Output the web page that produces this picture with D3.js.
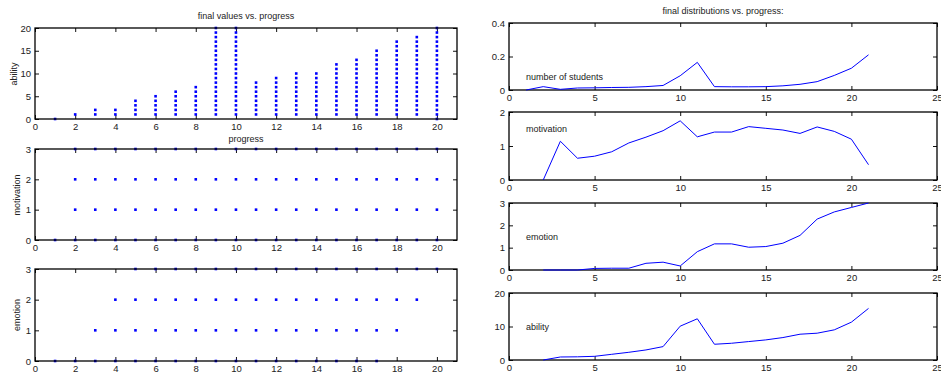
<!DOCTYPE html>
<html>
<head>
<meta charset="utf-8">
<script src="https://cdn.jsdelivr.net/npm/d3@7"></script>
<style>
  body { margin: 0; background: #fff; }
  svg { display: block; font-family: "Liberation Sans", Arial, sans-serif; }
  .tick text { font-size: 9.5px; fill: #222; }
</style>
</head>
<body>
<div id="chart"></div>
<script>
// progress steps 1..20 (left panels)
const progress = [1, 2, 3, 4, 5, 6, 7, 8, 9, 10, 11, 12, 13, 14, 15, 16, 17, 18, 19, 20];
// lowest / highest ability level seen at each progress step
const abilityMin = [0, 1, 1, 1, 1, 1, 1, 1, 1, 1, 1, 1, 1, 1, 1, 1, 1, 1, 1, 0];
const abilityMax = [0, 1, 2, 2, 4, 5, 6, 7, 20, 20, 8, 9, 10, 10, 12, 13, 15, 17, 18, 20];
// first / last progress step at which each level (0..3) occurs
const motivationFrom = [1, 2, 2, 2];
const motivationTo = [20, 20, 20, 20];
const emotionFrom = [1, 3, 4, 5];
const emotionTo = [17, 18, 19, 20];

// right panels: distributions vs. progress
const distX = [1, 2, 3, 4, 5, 6, 7, 8, 9, 10, 11, 12, 13, 14, 15, 16, 17, 18, 19, 20, 21];
const students = [0, 0.02, 0.004, 0.012, 0.013, 0.015, 0.016, 0.02, 0.027, 0.085, 0.165, 0.02, 0.019, 0.019, 0.02, 0.025, 0.034, 0.05, 0.087, 0.13, 0.21];
const motivation = [null, 0, 1.14, 0.64, 0.7, 0.83, 1.09, 1.26, 1.45, 1.74, 1.27, 1.41, 1.41, 1.57, 1.52, 1.47, 1.37, 1.56, 1.43, 1.2, 0.45];
const emotion = [null, 0, 0, 0, 0.07, 0.08, 0.08, 0.3, 0.35, 0.18, 0.82, 1.17, 1.17, 1.02, 1.05, 1.2, 1.55, 2.28, 2.6, 2.8, 3.0];
const ability = [null, 0, 0.9, 0.95, 1.1, 1.7, 2.3, 3.0, 4.0, 10.1, 12.3, 4.7, 5.0, 5.5, 6.0, 6.7, 7.7, 8.0, 9.0, 11.3, 15.4];

const leftTicksX = [0, 2, 4, 6, 8, 10, 12, 14, 16, 18, 20];
const rightTicksX = [0, 5, 10, 15, 20, 25];

const W = 941, H = 376;
const blue = "#0000ff";

const svg = d3.select("#chart").append("svg")
  .attr("width", W).attr("height", H);

// draws a boxed MATLAB-like panel, ticks pointing inward on all sides
function panel(box, xDomain, yDomain, xTicks, yTicks, yFmt) {
  const x = d3.scaleLinear().domain(xDomain).range([box.x0, box.x1]);
  const y = d3.scaleLinear().domain(yDomain).range([box.y1, box.y0]);
  const g = svg.append("g");

  g.append("g").attr("transform", `translate(0,${box.y1})`)
    .call(d3.axisBottom(x).tickValues(xTicks).tickSize(-4).tickPadding(4).tickFormat(d3.format("d")));
  g.append("g").attr("transform", `translate(0,${box.y0})`)
    .call(d3.axisTop(x).tickValues(xTicks).tickSize(-4).tickFormat(""));
  g.append("g").attr("transform", `translate(${box.x0},0)`)
    .call(d3.axisLeft(y).tickValues(yTicks).tickSize(-4).tickPadding(4).tickFormat(yFmt || d3.format("d")));
  g.append("g").attr("transform", `translate(${box.x1},0)`)
    .call(d3.axisRight(y).tickValues(yTicks).tickSize(-4).tickFormat(""));

  g.selectAll(".domain").remove();
  g.selectAll(".tick line").attr("stroke", "#111");
  g.append("rect")
    .attr("x", box.x0).attr("y", box.y0)
    .attr("width", box.x1 - box.x0).attr("height", box.y1 - box.y0)
    .attr("fill", "none").attr("stroke", "#000").attr("stroke-width", 1.3);
  return { x, y, g };
}

function dots(p, pts) {
  p.g.insert("g", "rect").selectAll("rect").data(pts).enter().append("rect")
    .attr("x", d => p.x(d[0]) - 1.3)
    .attr("y", d => p.y(d[1]) - 1.3)
    .attr("width", 2.6).attr("height", 2.6)
    .attr("fill", blue);
}

function label(text, x, y, rotate) {
  svg.append("text")
    .attr("transform", `translate(${x},${y})` + (rotate ? " rotate(-90)" : ""))
    .attr("text-anchor", "middle")
    .attr("font-size", 9).attr("fill", "#222")
    .text(text);
}

// ---- left column ----
const L = { x0: 35, x1: 457 };
const pAb = panel({ ...L, y0: 28, y1: 119 }, [0, 21], [0, 20], leftTicksX, [0, 5, 10, 15, 20]);
const pMo = panel({ ...L, y0: 149, y1: 240 }, [0, 21], [0, 3], leftTicksX, [0, 1, 2, 3]);
const pEm = panel({ ...L, y0: 269, y1: 361 }, [0, 21], [0, 3], leftTicksX, [0, 1, 2, 3]);

const abPts = [];
progress.forEach((p, i) => {
  for (let v = abilityMin[i]; v <= abilityMax[i]; v++) abPts.push([p, v]);
});
dots(pAb, abPts);

function levelPts(from, to) {
  const pts = [];
  from.forEach((f, lvl) => {
    progress.filter(p => p >= f && p <= to[lvl]).forEach(p => pts.push([p, lvl]));
  });
  return pts;
}
dots(pMo, levelPts(motivationFrom, motivationTo));
dots(pEm, levelPts(emotionFrom, emotionTo));

label("final values vs. progress", 246, 19);
label("progress", 246, 142);
label("ability", 17, 74, true);
label("motivation", 20, 195, true);
label("emotion", 20, 315, true);

// ---- right column ----
const R = { x0: 509, x1: 937 };
const lines = [
  { box: { ...R, y0: 23, y1: 90 }, yDom: [0, 0.4], yTicks: [0, 0.2, 0.4], fmt: d => d === 0 ? "0" : d3.format(".1f")(d), data: students, name: "number of students", ly: 80 },
  { box: { ...R, y0: 112, y1: 180 }, yDom: [0, 2], yTicks: [0, 1, 2], data: motivation, name: "motivation", ly: 132 },
  { box: { ...R, y0: 203, y1: 270 }, yDom: [0, 3], yTicks: [0, 1, 2, 3], data: emotion, name: "emotion", ly: 240 },
  { box: { ...R, y0: 293, y1: 360 }, yDom: [0, 20], yTicks: [0, 10, 20], data: ability, name: "ability", ly: 330 }
];

lines.forEach(l => {
  const p = panel(l.box, [0, 25], l.yDom, rightTicksX, l.yTicks, l.fmt);
  const line = d3.line()
    .defined(d => d[1] !== null)
    .x(d => p.x(d[0])).y(d => p.y(d[1]));
  p.g.append("path")
    .datum(distX.map((x, i) => [x, l.data[i]]))
    .attr("d", line)
    .attr("fill", "none").attr("stroke", blue).attr("stroke-width", 1);
  svg.append("text")
    .attr("x", 526).attr("y", l.ly)
    .attr("font-size", 9).attr("fill", "#222")
    .text(l.name);
});

label("final distributions vs. progress:", 723, 14);
</script>
</body>
</html>
